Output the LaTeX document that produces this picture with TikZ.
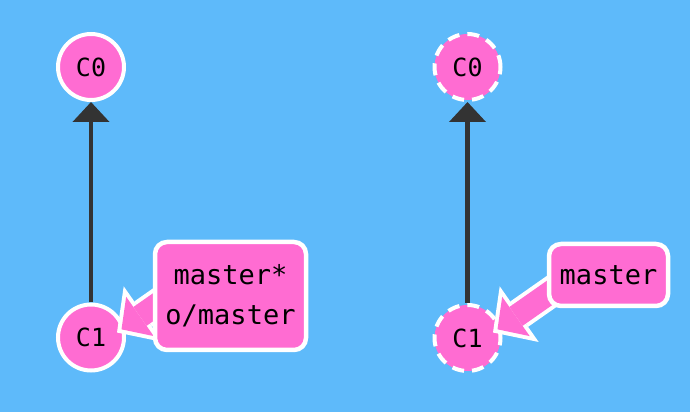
\documentclass[tikz,border=0pt]{standalone}
\usepackage{fontspec}
\newfontfamily\commitfont{DejaVu Sans Mono}
\usetikzlibrary{arrows.meta,calc}
\definecolor{skyblue}{RGB}{94,186,250}
\definecolor{commitpink}{RGB}{255,108,210}
\definecolor{edgegray}{RGB}{51,51,51}
\tikzset{
  commit/.style={circle, fill=commitpink, draw=white, line width=4pt, minimum size=66pt, inner sep=0pt, font=\commitfont\fontsize{25}{28}\selectfont},
  ghost/.style={commit, dash pattern=on 12pt off 8pt},
  parent/.style={line width=4.3pt, draw=edgegray, -{Triangle[length=20pt,width=36pt]}},
  branch/.style={rectangle, rounded corners=12pt, fill=commitpink, draw=white, line width=4.5pt, inner sep=0pt, align=center, font=\commitfont\fontsize{27}{40}\selectfont},
  ptrouter/.style={white, line width=31pt, -{Triangle[length=32pt,width=68pt,line width=0pt]}},
  ptrinner/.style={commitpink, line width=23pt, shorten >=5.5pt, -{Triangle[length=22.5pt,width=48pt,line width=0pt]}}
}
\begin{document}
\begin{tikzpicture}[x=1pt,y=1pt]
    % Background
    \fill[skyblue] (0,0) rectangle (690,412);
    \useasboundingbox (0,0) rectangle (690,412);
    % Left-hand Commits
    \node[commit] (C0L) at (91,345) {C0};
    \node[commit] (C1L) at (91,74.5) {C1};
    \draw[parent] (C1L) -- (C0L);
    % Right-hand Commits
    \node[ghost] (C0R) at (467.5,345) {C0};
    \node[ghost] (C1R) at (467.5,74) {C1};
    \draw[parent] (C1R) -- (C0R);
    % Left-hand Pointer
    \coordinate (tipL) at ($(C1L.center)+(26,5)$);
    \coordinate (tailL) at ($(tipL)+(35:80pt)$);
    \draw[ptrouter] (tailL) -- (tipL);
    \draw[ptrinner] (tailL) -- (tipL);
    % Right-hand Pointer
    \coordinate (tipR) at ($(C1R.center)+(25.5,5.5)$);
    \coordinate (tailR) at ($(tipR)+(35:80pt)$);
    \draw[ptrouter] (tailR) -- (tipR);
    \draw[ptrinner] (tailR) -- (tipR);
    % Branch labels
    \node[branch, minimum width=151pt, minimum height=108pt] (lblL) at (230.5,116) {master*\\o/master};
    \node[branch, minimum width=119pt, minimum height=62pt] (lblR) at (608.5,137) {master};
\end{tikzpicture}
\end{document}
